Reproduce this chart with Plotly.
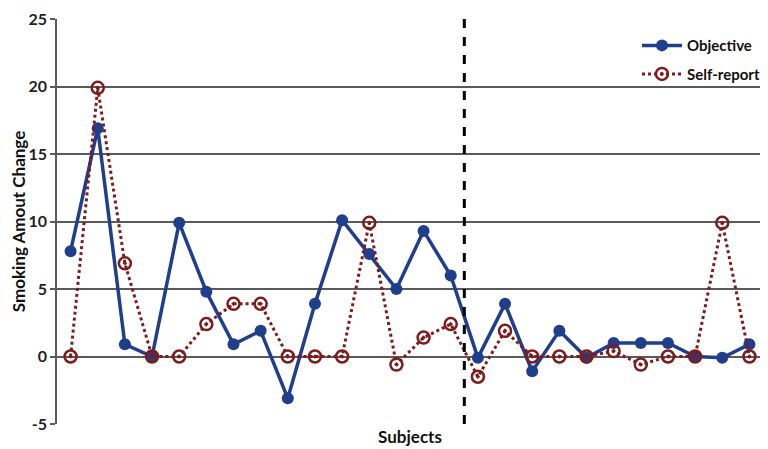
import plotly.graph_objects as go

subjects = list(range(1, 27))
objective = [7.8, 16.9, 0.9, 0.0, 9.9, 4.8, 0.9, 1.9, -3.1, 3.9, 10.1, 7.6, 5.0, 9.3, 6.0,
             -0.1, 3.9, -1.1, 1.9, -0.1, 1.0, 1.0, 1.0, 0.0, -0.1, 0.9]
self_report = [0.0, 19.9, 6.9, 0.0, 0.0, 2.4, 3.9, 3.9, 0.0, 0.0, 0.0, 9.9, -0.6, 1.4, 2.4,
               -1.5, 1.9, 0.0, 0.0, 0.0, 0.4, -0.6, 0.0, 0.0, 9.9, 0.0]
y_ticks = [-5, 0, 5, 10, 15, 20, 25]
y_tick_labels = ["-5", "0", "5", "10", "15", "20", "25"]
divider_after = 15  # dashed line between subject 15 and 16

blue = "#1F3E8C"
red = "#7E1B1B"
grid = "#5A5A5A"
font_family = "Lato"

fig = go.Figure()
fig.add_trace(go.Scatter(
    x=subjects, y=objective, name="Objective", mode="lines+markers", legendgroup="a",
    line=dict(color=blue, width=3.5),
    marker=dict(symbol="circle", size=12, color=blue),
))
fig.add_trace(go.Scatter(
    x=subjects, y=self_report, name="Self-report", mode="lines+markers", legendgroup="b",
    line=dict(color=red, width=3, dash="dot"),
    marker=dict(symbol="circle-open-dot", size=12, color=red, line=dict(color=red, width=2.5)),
))

fig.add_shape(type="line", xref="x", yref="paper",
              x0=divider_after + 0.5, x1=divider_after + 0.5, y0=0, y1=1,
              line=dict(color="black", width=3, dash="dash"))

fig.update_layout(
    width=768, height=449,
    margin=dict(l=49, r=13, t=11, b=33, autoexpand=False),
    paper_bgcolor="white", plot_bgcolor="white",
    font=dict(family=font_family, color="#222222"),
    showlegend=True,
    legend=dict(x=0.8215, y=0.975, xanchor="left", yanchor="top",
                bgcolor="rgba(255,255,255,0)", tracegroupgap=6,
                font=dict(family=font_family, size=15, color="#111111", weight="bold"),
                itemwidth=40),
    xaxis=dict(range=[0.5, 26.5], showticklabels=False, ticks="", showgrid=False,
               zeroline=False, showline=False, automargin=False,
               title=dict(text="Subjects", standoff=7,
                          font=dict(family=font_family, size=17, color="#111111", weight="bold"))),
    yaxis=dict(range=[-5, 25], tickvals=y_ticks, ticktext=y_tick_labels, automargin=False,
               showgrid=True, gridcolor=grid, gridwidth=1.5,
               zeroline=False, showline=True, linecolor=grid, linewidth=1.5,
               ticks="outside", ticklen=5, tickcolor=grid, tickwidth=1.5,
               tickfont=dict(family=font_family, size=16, color="#222222", weight="bold"),
               title=dict(text="Smoking Amout Change", standoff=4,
                          font=dict(family=font_family, size=17, color="#111111", weight="bold"))),
)

fig.write_html("out.html")
